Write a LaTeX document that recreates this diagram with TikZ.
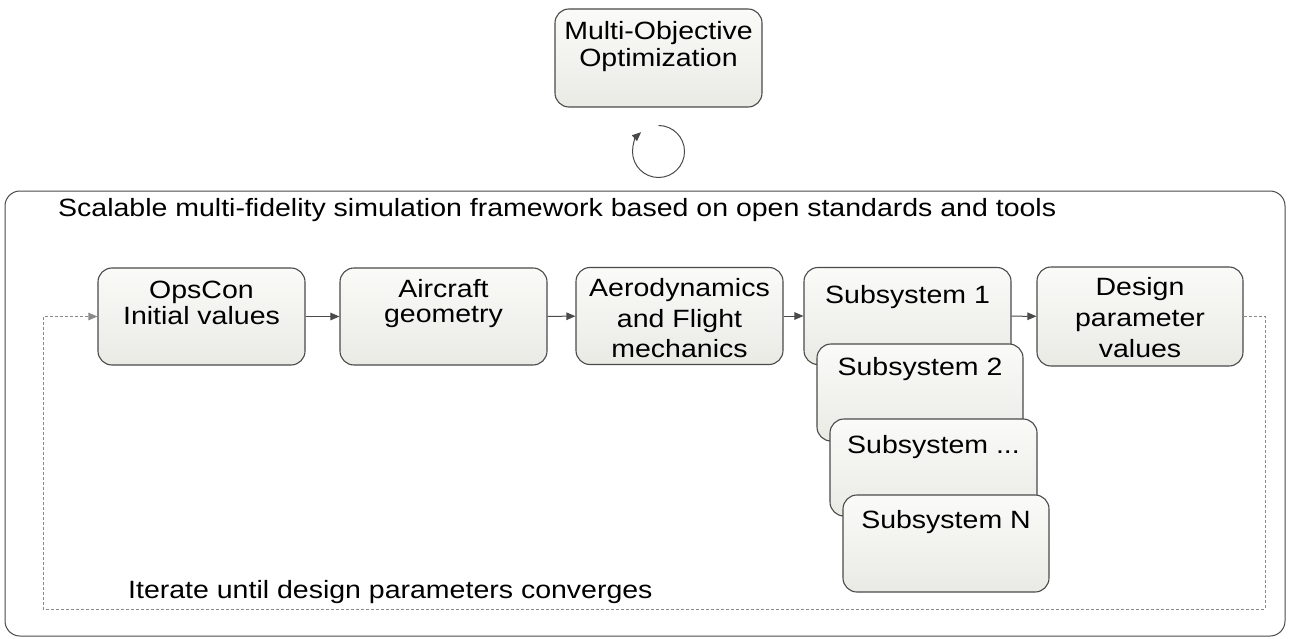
\documentclass[tikz,border=0pt]{standalone}
\usepackage{fontspec}
\setmainfont{Liberation Sans}[FakeStretch=1.14]
\usetikzlibrary{arrows.meta}
\definecolor{edge}{HTML}{4A4A4A}
\definecolor{boxtop}{HTML}{FAFAF8}
\definecolor{boxbot}{HTML}{EAEAE5}
\definecolor{loopc}{HTML}{8A8A8A}
\tikzset{
  blk/.style={draw=edge, line width=1.1pt, rounded corners=14pt,
    top color=boxtop, bottom color=boxbot,
    minimum width=207pt, minimum height=97pt, inner sep=0pt},
  txt/.style={anchor=base, inner sep=0pt, font=\fontsize{25}{26}\selectfont},
  ltxt/.style={txt, anchor=base west},
  flow/.style={draw=edge, line width=1pt, -{Triangle[length=9pt,width=7.5pt]}},
  back/.style={draw=loopc, line width=1pt, dash pattern=on 3pt off 2pt,
    -{Triangle[length=9pt,width=7.5pt]}},
  frame/.style={draw=edge, line width=1pt, rounded corners=15pt}
}
\begin{document}
\begin{tikzpicture}[x=1pt, y=-1pt]
\useasboundingbox (0,0) rectangle (1289,639);

% outer framework
\draw[frame] (5,191) rectangle (1285,636);
\node[ltxt] (title) at (58,216) {Scalable multi-fidelity simulation framework based on open standards and tools};
\node[ltxt] (iter) at (128,598) {Iterate until design parameters converges};

% optimizer on top
\node[blk, minimum height=98pt] (multi) at (658.5,58) {};
\node[txt] (multi1) at (658.5,40) {Multi-Objective};
\node[txt] (multi2) at (658.5,67) {Optimization};

% cycle symbol (starts at the top, runs clockwise)
\coordinate (cyctop) at (658.5,125.5);
\draw[flow] (cyctop) arc[start angle=-90, end angle=228, radius=26];

% process chain
\node[blk] (ops) at (201.5,316.5) {};
\node[txt] (ops1) at (201.5,298) {OpsCon};
\node[txt] (ops2) at (201.5,324) {Initial values};

\node[blk] (air) at (443.5,316.5) {};
\node[txt] (air1) at (443.5,297) {Aircraft};
\node[txt] (air2) at (443.5,322) {geometry};

\node[blk] (aero) at (679.5,316) {};
\node[txt] (aero1) at (679.5,296) {Aerodynamics};
\node[txt] (aero2) at (679.5,327) {and Flight};
\node[txt] (aero3) at (679.5,357) {mechanics};

\node[blk] (sub1) at (907.5,316) {};
\node[txt] (sub1t) at (907.5,303) {Subsystem 1};
\node[blk, minimum width=206pt] (sub2) at (920,392.5) {};
\node[txt] (sub2t) at (920,375) {Subsystem 2};
\node[blk] (sub3) at (933.5,467.5) {};
\node[txt] (sub3t) at (933.5,453) {Subsystem ...};
\node[blk, minimum width=206pt] (subn) at (946,543.5) {};
\node[txt] (subnt) at (946,528) {Subsystem N};

\node[blk, minimum width=206pt, minimum height=99pt] (design) at (1140,316.5) {};
\node[txt] (des1) at (1140,295) {Design};
\node[txt] (des2) at (1140,326) {parameter};
\node[txt] (des3) at (1140,357) {values};

% connectors
\draw[flow] (ops) -- (air);
\draw[flow] (air) -- (aero);
\draw[flow] (aero) -- (sub1);
\draw[flow] (sub1) -- (design);

% iteration loop
\coordinate (loopR) at (1265,609);
\coordinate (loopL) at (43,609);
\draw[back] (design.east) -| (loopR) -- (loopL) |- (ops.west);
\end{tikzpicture}
\end{document}
